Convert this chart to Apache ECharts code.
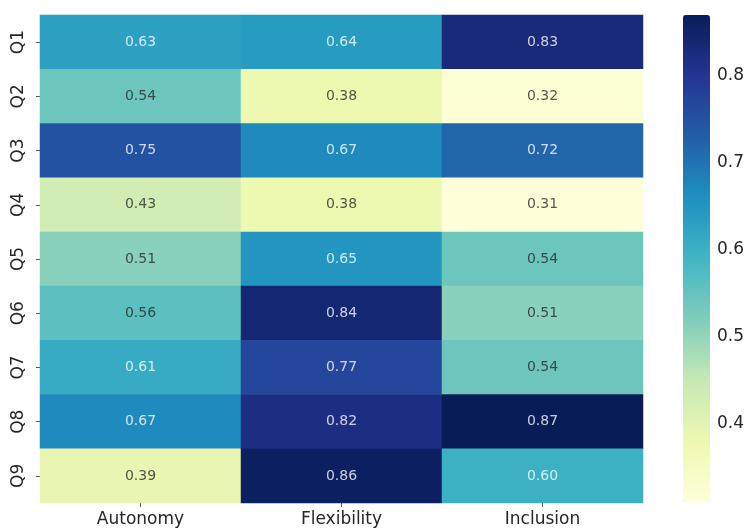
<!DOCTYPE html>
<html>
<head>
<meta charset="utf-8">
<script src="https://cdn.jsdelivr.net/npm/echarts@6/dist/echarts.min.js"></script>
<style>
  html, body { margin: 0; padding: 0; background: #ffffff; }
  #chart { width: 749px; height: 529px; }
</style>
</head>
<body>
<div id="chart"></div>
<script>
// Categories
const columns = ['Autonomy', 'Flexibility', 'Inclusion'];
const questions = ['Q1', 'Q2', 'Q3', 'Q4', 'Q5', 'Q6', 'Q7', 'Q8', 'Q9'];

// Scores per column, Q1..Q9
const autonomy    = [0.63, 0.54, 0.75, 0.43, 0.51, 0.56, 0.61, 0.67, 0.39];
const flexibility = [0.64, 0.38, 0.67, 0.38, 0.65, 0.84, 0.77, 0.82, 0.86];
const inclusion   = [0.83, 0.32, 0.72, 0.31, 0.54, 0.51, 0.54, 0.87, 0.60];

// Colour bar tick labels
const colorbarTicks = [0.4, 0.5, 0.6, 0.7, 0.8];

// YlGnBu colour ramp
const ylgnbu = ['#ffffd9', '#edf8b1', '#c7e9b4', '#7fcdbb', '#41b6c4',
                '#1d91c0', '#225ea8', '#253494', '#081d58'];

const seriesByColumn = [autonomy, flexibility, inclusion];
const allValues = [].concat(autonomy, flexibility, inclusion);
const vmin = Math.min.apply(null, allValues);
const vmax = Math.max.apply(null, allValues);

function hexToRgb(h) {
  return [parseInt(h.slice(1, 3), 16), parseInt(h.slice(3, 5), 16), parseInt(h.slice(5, 7), 16)];
}
function rampColor(v) {
  const t = Math.min(1, Math.max(0, (v - vmin) / (vmax - vmin))) * (ylgnbu.length - 1);
  const i = Math.min(ylgnbu.length - 2, Math.floor(t));
  const f = t - i;
  const a = hexToRgb(ylgnbu[i]), b = hexToRgb(ylgnbu[i + 1]);
  return a.map((c, k) => c + (b[k] - c) * f);
}
function luminance(rgb) {
  const lin = rgb.map(c => {
    c = c / 255;
    return c <= 0.03928 ? c / 12.92 : Math.pow((c + 0.055) / 1.055, 2.4);
  });
  return 0.2126 * lin[0] + 0.7152 * lin[1] + 0.0722 * lin[2];
}

// Annotation text is dark on light cells and white on dark cells
const cells = [];
seriesByColumn.forEach((vals, xi) => {
  vals.forEach((v, yi) => {
    const dark = luminance(rampColor(v)) > 0.408;
    cells.push({
      value: [xi, yi, v],
      label: { color: dark ? 'rgba(38,38,38,0.78)' : 'rgba(255,255,255,0.78)' }
    });
  });
});

const font = 'DejaVu Sans';
const chart = echarts.init(document.getElementById('chart'), null, { renderer: 'canvas' });

chart.setOption({
  backgroundColor: '#ffffff',
  animation: false,
  textStyle: { fontFamily: font },
  grid: [
    { left: 40, top: 15, width: 603, height: 488 },
    { left: 683, top: 15, width: 27, height: 487 }
  ],
  xAxis: [
    {
      type: 'category',
      gridIndex: 0,
      data: columns,
      position: 'bottom',
      axisLine: { show: false },
      axisTick: { show: true, alignWithLabel: true, length: 4, lineStyle: { color: '#555' } },
      axisLabel: { color: '#262626', fontSize: 17, margin: 8, fontFamily: font },
      splitLine: { show: false }
    },
    { type: 'value', gridIndex: 1, show: false, min: 0, max: 1 }
  ],
  yAxis: [
    {
      type: 'category',
      gridIndex: 0,
      data: questions,
      inverse: true,
      axisLine: { show: false },
      axisTick: { show: true, alignWithLabel: true, length: 4, lineStyle: { color: '#555' } },
      axisLabel: { color: '#262626', fontSize: 17, rotate: 90, margin: 13, fontFamily: font },
      splitLine: { show: false }
    },
    {
      type: 'value',
      gridIndex: 1,
      min: vmin,
      max: vmax,
      position: 'right',
      axisLine: { show: false },
      axisTick: { show: true, length: 4, customValues: colorbarTicks, lineStyle: { color: '#555' } },
      axisLabel: {
        show: true, color: '#262626', fontSize: 17, margin: 7, fontFamily: font,
        customValues: colorbarTicks,
        formatter: v => v.toFixed(1)
      },
      splitLine: { show: false }
    }
  ],
  visualMap: {
    type: 'continuous',
    min: vmin,
    max: vmax,
    dimension: 2,
    seriesIndex: 0,
    calculable: false,
    orient: 'vertical',
    left: 683,
    top: 15,
    itemWidth: 27,
    itemHeight: 487,
    padding: 0,
    text: null,
    inRange: { color: ylgnbu }
  },
  series: [{
    type: 'heatmap',
    xAxisIndex: 0,
    yAxisIndex: 0,
    data: cells,
    label: {
      show: true,
      fontSize: 14,
      fontFamily: font,
      formatter: p => p.value[2].toFixed(2)
    },
    itemStyle: { borderWidth: 0 },
    emphasis: { disabled: true }
  }]
});
</script>
</body>
</html>
